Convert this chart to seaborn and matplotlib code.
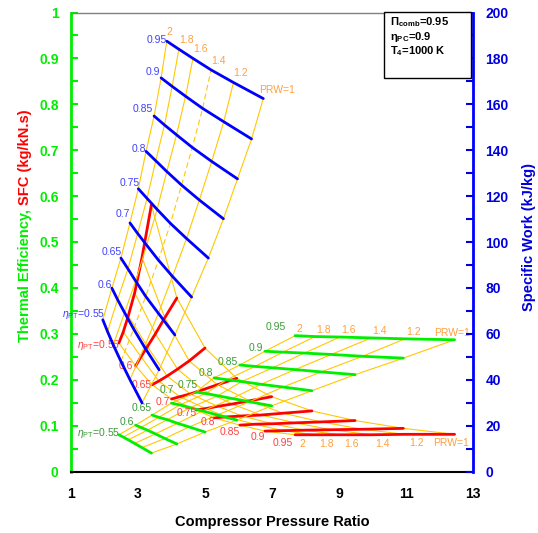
import numpy as np
import pandas as pd
import matplotlib
matplotlib.use('Agg')
import matplotlib.pyplot as plt
import seaborn as sns
from matplotlib.patches import Rectangle
from matplotlib.ticker import MultipleLocator, FuncFormatter

# ---------------- data ----------------
eta_pt = [0.55, 0.60, 0.65, 0.70, 0.75, 0.80, 0.85, 0.90, 0.95]
prw = [2.0, 1.8, 1.6, 1.4, 1.2, 1.0]
eta_labels = ['$\\eta_{\\mathrm{PT}}$=0.55', '0.6', '0.65', '0.7', '0.75', '0.8', '0.85', '0.9', '0.95']
prw_labels = ['2', '1.8', '1.6', '1.4', '1.2', 'PRW=1']

# x position of SFC / thermal-efficiency carpets (rows: eta_pt, cols: prw)
x_cycle = [
    [2.43, 2.56, 2.71, 2.90, 3.12, 3.40],
    [2.93, 3.09, 3.28, 3.52, 3.80, 4.16],
    [3.42, 3.62, 3.87, 4.18, 4.53, 5.00],
    [4.00, 4.25, 4.56, 4.93, 5.37, 5.95],
    [4.73, 5.02, 5.38, 5.81, 6.33, 6.99],
    [5.27, 5.65, 6.10, 6.67, 7.33, 8.19],
    [6.04, 6.49, 7.02, 7.69, 8.47, 9.48],
    [6.79, 7.33, 7.97, 8.77, 9.70, 10.92],
    [7.69, 8.28, 9.03, 9.96, 10.97, 12.45],
]
sfc = [
    [0.280, 0.304, 0.339, 0.389, 0.466, 0.581],
    [0.230, 0.250, 0.272, 0.300, 0.335, 0.378],
    [0.189, 0.197, 0.208, 0.223, 0.241, 0.269],
    [0.158, 0.163, 0.169, 0.178, 0.189, 0.203],
    [0.134, 0.137, 0.142, 0.147, 0.154, 0.163],
    [0.117, 0.119, 0.121, 0.123, 0.127, 0.132],
    [0.101, 0.103, 0.104, 0.106, 0.108, 0.111],
    [0.088, 0.089, 0.090, 0.091, 0.092, 0.094],
    [0.080, 0.080, 0.080, 0.080, 0.081, 0.081],
]
thermal_eff = [
    [0.080, 0.075, 0.069, 0.061, 0.052, 0.040],
    [0.101, 0.096, 0.090, 0.082, 0.072, 0.060],
    [0.123, 0.118, 0.113, 0.105, 0.097, 0.086],
    [0.149, 0.145, 0.139, 0.132, 0.123, 0.112],
    [0.173, 0.170, 0.165, 0.159, 0.152, 0.143],
    [0.204, 0.200, 0.196, 0.190, 0.184, 0.176],
    [0.232, 0.229, 0.226, 0.222, 0.217, 0.211],
    [0.262, 0.260, 0.258, 0.255, 0.251, 0.247],
    [0.296, 0.294, 0.293, 0.291, 0.289, 0.287],
]
# x position of the specific-work carpet
x_work = [
    [1.95, 2.09, 2.26, 2.49, 2.76, 3.12],
    [2.22, 2.39, 2.60, 2.87, 3.19, 3.63],
    [2.49, 2.70, 2.93, 3.23, 3.61, 4.10],
    [2.76, 2.99, 3.26, 3.61, 4.03, 4.60],
    [3.01, 3.27, 3.57, 3.97, 4.45, 5.10],
    [3.24, 3.53, 3.86, 4.30, 4.83, 5.55],
    [3.48, 3.79, 4.15, 4.62, 5.20, 5.97],
    [3.69, 4.02, 4.42, 4.93, 5.56, 6.39],
    [3.86, 4.22, 4.64, 5.18, 5.85, 6.74],
]
specific_work = [
    [66.1, 61.0, 55.2, 48.0, 40.0, 29.9],
    [79.9, 74.9, 69.2, 62.1, 54.3, 44.3],
    [93.0, 88.3, 83.0, 76.3, 68.9, 59.5],
    [108.3, 103.7, 98.6, 92.1, 85.0, 76.0],
    [123.2, 119.0, 114.2, 108.1, 101.5, 93.0],
    [139.5, 135.4, 130.7, 124.8, 118.3, 110.1],
    [154.9, 151.0, 146.7, 141.2, 135.1, 127.5],
    [171.5, 167.8, 163.5, 158.2, 152.4, 144.9],
    [187.5, 184.0, 180.0, 175.0, 169.5, 162.5],
]

# ---------------- layout (label offsets in pixels) ----------------
blue_offsets = [(2, 6), (0, 3), (1, 6), (0, 9), (1, 6), (0, 2), (-1, 7), (-1, 6), (0, 1)]
red_offsets = [(1, -2), (-3, 0), (0, 0), (-2, -3), (1, -3), (1, -4), (0, -7), (0, -6), (-2, -8)]
green_offsets = [(1, 2), (-2, 3), (0, 7), (2, 13), (2, 7), (-1, 5), (-2, 3), (-2, 3), (-9, 9)]

# ---------------- style ----------------
sns.set_theme(style='white')
plt.rcParams['font.family'] = ['Liberation Sans', 'DejaVu Sans']
plt.rcParams['mathtext.fontset'] = 'custom'
plt.rcParams['mathtext.rm'] = 'Liberation Sans'
plt.rcParams['mathtext.it'] = 'Liberation Sans:italic'
plt.rcParams['mathtext.bf'] = 'Liberation Sans:bold'

YEL = '#ffc800'
C_BLUE, C_RED, C_GREEN = '#0000ff', '#ff0000', '#00ee00'
L_BLUE, L_RED, L_GREEN, L_ORANGE = '#4040ff', '#ff4040', '#3a9a3a', '#ffa040'
THICK, THIN = 2.0, 0.8


def long_df(xs, ys):
    rows = []
    for i, e in enumerate(eta_pt):
        for j, p in enumerate(prw):
            rows.append(dict(eta=e, prw=p, x=xs[i][j], y=ys[i][j]))
    return pd.DataFrame(rows)


def carpet(ax, df, color, dashed_prw=None):
    by_prw = df.sort_values(['prw', 'eta'], ascending=[False, True])
    solid = by_prw[by_prw['prw'] != dashed_prw] if dashed_prw is not None else by_prw
    sns.lineplot(data=solid, x='x', y='y', units='prw', estimator=None, sort=False,
                 color=YEL, lw=THIN, ax=ax, legend=False)
    if dashed_prw is not None:
        sns.lineplot(data=by_prw[by_prw['prw'] == dashed_prw], x='x', y='y', estimator=None,
                     sort=False, color=YEL, lw=THIN, ls=(0, (5, 3)), ax=ax, legend=False)
    sns.lineplot(data=df, x='x', y='y', units='eta', estimator=None, sort=False,
                 color=color, lw=THICK, ax=ax, legend=False)


def eta_text(ax, df, color, offsets):
    for e, lab, (dx, dy) in zip(eta_pt, eta_labels, offsets):
        r = df[(df['eta'] == e) & (df['prw'] == prw[0])].iloc[0]
        ax.annotate(lab, (r['x'], r['y']), xytext=(dx, dy), textcoords='offset pixels',
                    ha='right', va='center', color=color, fontsize=7.5)


def prw_text(ax, df, dx, dy, last_ha='left', last_dx=None):
    top = df[df['eta'] == eta_pt[-1]]
    for p, lab in zip(prw, prw_labels):
        r = top[top['prw'] == p].iloc[0]
        ha, ddx = ('left', dx)
        if lab.startswith('PRW'):
            ha = last_ha
            ddx = dx if last_dx is None else last_dx
        ax.annotate(lab, (r['x'], r['y']), xytext=(ddx, dy), textcoords='offset pixels',
                    ha=ha, va='center', color=L_ORANGE, fontsize=7.5)


fig = plt.figure(figsize=(5.38, 5.33), dpi=100)
ax = fig.add_axes([71 / 538, 61.5 / 533, 402 / 538, 459 / 533])
ax2 = ax.twinx()

df_sfc = long_df(x_cycle, sfc)
df_eff = long_df(x_cycle, thermal_eff)
df_work = long_df(x_work, specific_work)

carpet(ax, df_sfc, C_RED)
carpet(ax, df_eff, C_GREEN)
carpet(ax2, df_work, C_BLUE, dashed_prw=1.4)

eta_text(ax2, df_work, L_BLUE, blue_offsets)
eta_text(ax, df_sfc, L_RED, red_offsets)
eta_text(ax, df_eff, L_GREEN, green_offsets)
prw_text(ax2, df_work, 0, 9, last_ha='left', last_dx=-4)
prw_text(ax, df_eff, 1, 7, last_ha='center', last_dx=-3)
prw_text(ax, df_sfc, 4, -9, last_ha='center', last_dx=-4)

# ---------------- axes ----------------
ax.set_xlim(1, 13)
ax.set_ylim(0, 1)
ax2.set_ylim(0, 200)
ax.set_xticks([1, 3, 5, 7, 9, 11, 13])
ax.yaxis.set_major_locator(MultipleLocator(0.1))
ax.yaxis.set_minor_locator(MultipleLocator(0.05))
ax2.yaxis.set_major_locator(MultipleLocator(20))
ax2.yaxis.set_minor_locator(MultipleLocator(10))
ax.yaxis.set_major_formatter(FuncFormatter(lambda v, p: ('%.1f' % v).rstrip('0').rstrip('.') if v else '0'))

ax.set_xlabel('Compressor Pressure Ratio', fontsize=10.5, fontweight='bold', color='black', labelpad=10)
ax.set_ylabel('')
ax2.set_ylabel('')

ax.tick_params(axis='x', which='major', direction='out', length=4, width=1, colors='black',
               labelsize=10, pad=7)
ax.tick_params(axis='y', which='both', direction='in', length=5, width=1.5, colors=C_GREEN,
               labelsize=10, pad=9, left=True)
ax2.tick_params(axis='y', which='both', direction='in', length=5, width=1.5, colors='#0000dd',
                labelsize=10, pad=9, right=True)
for lbl in ax.get_xticklabels() + ax.get_yticklabels() + ax2.get_yticklabels():
    lbl.set_fontweight('bold')

for a in (ax, ax2):
    for s in a.spines.values():
        s.set_visible(False)
ax.spines['left'].set_visible(True)
ax.spines['left'].set_color(C_GREEN)
ax.spines['left'].set_linewidth(2)
ax.spines['bottom'].set_visible(True)
ax.spines['bottom'].set_color('black')
ax.spines['bottom'].set_linewidth(1.5)
ax.spines['top'].set_visible(True)
ax.spines['top'].set_color('#808080')
ax.spines['top'].set_linewidth(1)
ax2.spines['right'].set_visible(True)
ax2.spines['right'].set_color(C_BLUE)
ax2.spines['right'].set_linewidth(2)
ax.grid(False)
ax2.grid(False)

# info box
fig.patches.append(Rectangle((384 / 538, 1 - 78 / 533), 87 / 538, 66 / 533, transform=fig.transFigure,
                             fill=True, facecolor='white', edgecolor='black', lw=1, zorder=5))
box_lines = ['\u03a0$_{\\mathbf{comb}}$=0.95', '$\\mathbf{\\eta}_{\\mathbf{PC}}$=0.9', 'T$_{\\mathbf{4}}$=1000 K']
for k, t in enumerate(box_lines):
    fig.text(390 / 538, 1 - (22 + 14.5 * k) / 533, t, fontsize=8, fontweight='bold', color='black',
             ha='left', va='center', zorder=6)

# axis titles
fig.canvas.draw()
rend = fig.canvas.get_renderer()
y0 = 1 - 342 / 533
t1 = fig.text(25 / 538, y0, 'Thermal Efficiency, ', rotation=90, rotation_mode='anchor',
              ha='left', va='center', color=C_GREEN, fontsize=10.5, fontweight='bold')
h = t1.get_window_extent(renderer=rend).height / fig.bbox.height
fig.text(25 / 538, y0 + h, 'SFC (kg/kN.s)', rotation=90, rotation_mode='anchor',
         ha='left', va='center', color=C_RED, fontsize=10.5, fontweight='bold')
fig.text(529 / 538, 1 - 237 / 533, 'Specific Work (kJ/kg)', rotation=90, ha='center', va='center',
         color='#0000dd', fontsize=10.5, fontweight='bold')

fig.savefig('out.png', dpi=100)
